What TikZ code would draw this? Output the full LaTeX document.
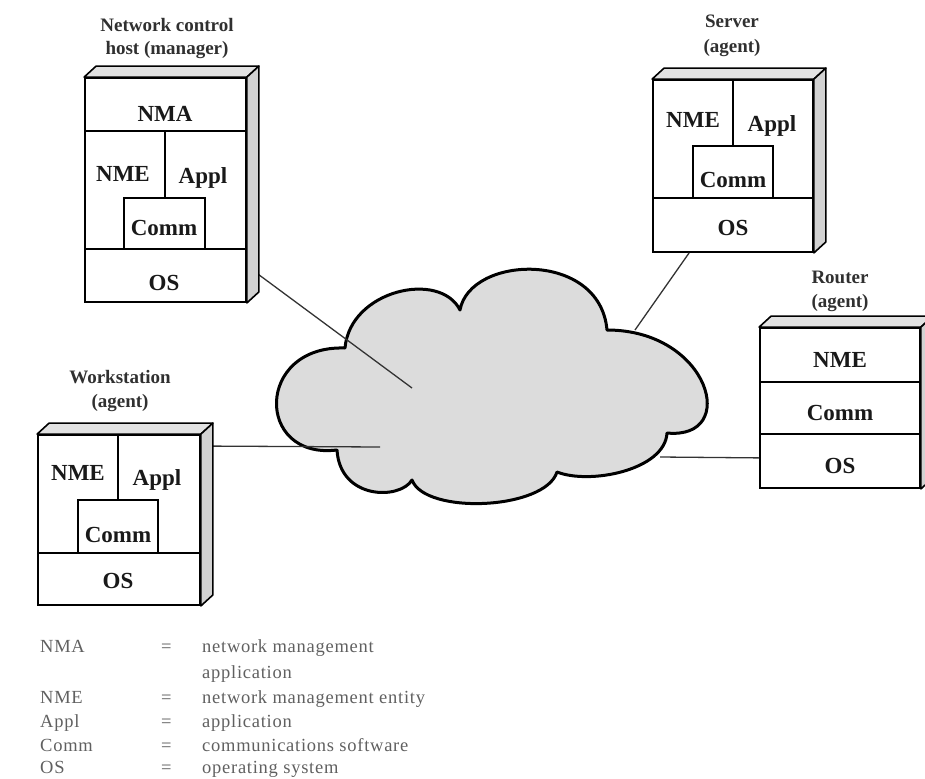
\documentclass[tikz,border=0pt]{standalone}
\usepackage{fontspec}
\setmainfont{Liberation Serif}
\usetikzlibrary{calc}
\definecolor{cloudgray}{HTML}{DCDCDC}
\definecolor{sidegray}{HTML}{D2D2D2}
\definecolor{topgray}{HTML}{E2E2E2}
\definecolor{legendgray}{HTML}{606060}
\definecolor{capgray}{HTML}{303030}
\begin{document}
\begin{tikzpicture}[x=1pt,y=-1pt,
  front/.style={draw=black, line width=1.8pt, fill=white, inner sep=0pt},
  sideface/.style={draw=black, line width=1.6pt, fill=sidegray, line join=round},
  topface/.style={draw=black, line width=1.6pt, fill=topgray, line join=round},
  inner/.style={draw=black, line width=1.5pt},
  lbl/.style={anchor=base, inner sep=0pt, text=black!90, font=\bfseries\fontsize{23}{23}\selectfont},
  boxcaption/.style={anchor=base, inner sep=0pt, text=capgray, font=\bfseries\fontsize{19}{19}\selectfont},
  leg/.style={anchor=base west, inner sep=0pt, text=legendgray, font=\fontsize{18.5}{18.5}\selectfont\addfontfeatures{LetterSpace=4}},
  link/.style={draw=black!80, line width=1.3pt},
  cloudline/.style={draw=black, line width=3pt, fill=cloudgray, line join=round}
]
\useasboundingbox (0,0) rectangle (925,778);

% ---- network cloud ----
\path[cloudline] (345,348)
  .. controls (350,290) and (440,270) .. (460,310)
  .. controls (470,255) and (600,250) .. (607,330)
  .. controls (710,330) and (740,440) .. (667,433)
  .. controls (665,470) and (590,485) .. (557,472)
  .. controls (545,510) and (425,515) .. (412,480)
  .. controls (400,500) and (340,500) .. (337,450)
  .. controls (255,460) and (255,345) .. (345,348) -- cycle;
\coordinate (cA) at (412,388);
\coordinate (cB) at (635,330);
\coordinate (cC) at (380,447);
\coordinate (cD) at (660,457);

% ---- front faces of the four machines ----
\node[front, minimum width=161pt, minimum height=224pt] (mgr) at (165.5,190) {};
\node[front, minimum width=160pt, minimum height=172pt] (srv) at (733,166) {};
\node[front, minimum width=160pt, minimum height=160pt] (rtr) at (840,408) {};
\node[front, minimum width=162pt, minimum height=170pt] (ws)  at (119,520) {};

% ---- connectors ----
\draw[link] ($(mgr.south east)+(0,-37)$) -- (cA);
\draw[link] ($(srv.south west)+(37,0)$) -- (cB);
\draw[link] ($(ws.north east)+(12,12)$) -- (cC);
\draw[link] (cD) -- ($(rtr.south west)+(0,-31)$);

% ---- top and side faces ----
\foreach \b in {mgr,srv,rtr,ws}{
  \path[topface] (\b.north west) -- ($(\b.north west)+(12,-11)$)
     -- ($(\b.north east)+(12,-11)$) -- (\b.north east) -- cycle;
  \path[sideface] (\b.north east) -- ($(\b.north east)+(12,-11)$)
     -- ($(\b.south east)+(12,-11)$) -- (\b.south east) -- cycle;
}

% ---- manager compartments ----
\draw[inner] (85,131) -- (246,131);
\draw[inner] (165,131) -- (165,198);
\draw[inner] (124,249) -- (124,198) -- (205,198) -- (205,249);
\draw[inner] (85,249) -- (246,249);
\node[lbl] at (165,122) {NMA};
\node[lbl] at (123,182) {NME};
\node[lbl] at (203,183) {Appl};
\node[lbl] at (164,235) {Comm};
\node[lbl] at (164,290) {OS};
\node[boxcaption] at (167,32) {Network control};
\node[boxcaption] at (167,55) {host (manager)};

% ---- server compartments ----
\draw[inner] (733,80) -- (733,146);
\draw[inner] (693,198) -- (693,146) -- (773,146) -- (773,198);
\draw[inner] (653,198) -- (813,198);
\node[lbl] at (693,128) {NME};
\node[lbl] at (772,132) {Appl};
\node[lbl] at (733,187) {Comm};
\node[lbl] at (733,235) {OS};
\node[boxcaption] at (732,28) {Server};
\node[boxcaption] at (732,53) {(agent)};

% ---- router compartments ----
\draw[inner] (760,382) -- (920,382);
\draw[inner] (760,434) -- (920,434);
\node[lbl] at (840,367) {NME};
\node[lbl] at (840,420) {Comm};
\node[lbl] at (840,473) {OS};
\node[boxcaption] at (840,283) {Router};
\node[boxcaption] at (840,307) {(agent)};

% ---- workstation compartments ----
\draw[inner] (118,435) -- (118,500);
\draw[inner] (78,553) -- (78,500) -- (158,500) -- (158,553);
\draw[inner] (38,553) -- (200,553);
\node[lbl] at (78,480) {NME};
\node[lbl] at (157,485) {Appl};
\node[lbl] at (118,542) {Comm};
\node[lbl] at (118,588) {OS};
\node[boxcaption] at (120,383) {Workstation};
\node[boxcaption] at (120,407) {(agent)};

% ---- legend ----
\foreach \y/\a/\t in {652/NMA/network management, 703/NME/network management entity,
    727/Appl/application, 751/Comm/communications software, 773/OS/operating system}{
  \node[leg] at (40,\y) {\a};
  \node[leg] at (161,\y) {=};
  \node[leg] at (202,\y) {\t};
}
\node[leg] at (202,678) {application};
\end{tikzpicture}
\end{document}
